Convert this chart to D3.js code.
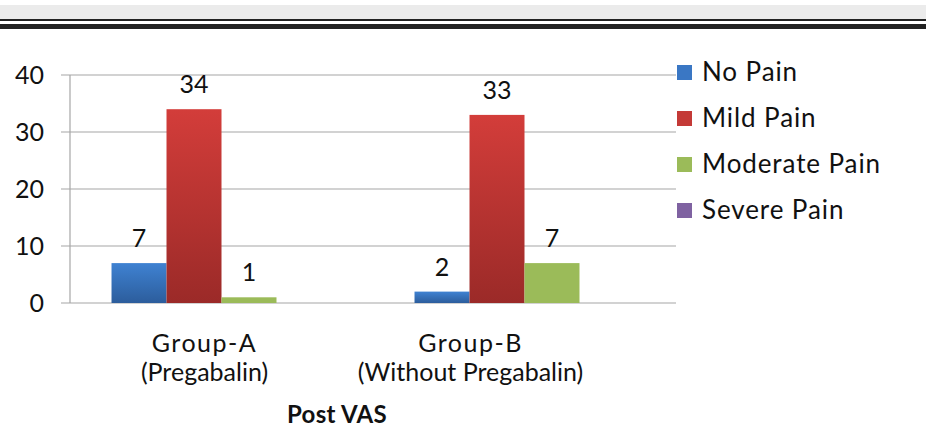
<!DOCTYPE html>
<html><head><meta charset="utf-8">
<script src="https://cdn.jsdelivr.net/npm/d3@7"></script>
<style>
html,body{margin:0;padding:0;background:#fff;}
svg{display:block;font-family:Lato,"Open Sans",sans-serif;}
</style></head>
<body>
<script>
const categories = ["Group-A|(Pregabalin)", "Group-B|(Without Pregabalin)"];
const seriesNames = ["No Pain", "Mild Pain", "Moderate Pain", "Severe Pain"];
const noPain = [7, 2];
const mildPain = [34, 33];
const moderatePain = [1, 7];
const severePain = [0, 0];
const yTicks = [0, 10, 20, 30, 40];
const axisTitle = "Post VAS";

(function(){
const W = 926, H = 437;
const seriesValues = [noPain, mildPain, moderatePain, severePain];
const colors = [
  ["#3f82d2", "#2c5d9c"],
  ["#d33d3a", "#9b2a28"],
  ["#9bbb59", "#9bbb59"],
  ["#7f62a1", "#6b4f8e"]
];
const legendColors = ["#3a77c4", "#c43a37", "#9bbb59", "#7f62a1"];

const svg = d3.select("body").append("svg").attr("width", W).attr("height", H);

// header bands
svg.append("rect").attr("x",0).attr("y",5).attr("width",W).attr("height",14).attr("fill","#ebebeb");
svg.append("rect").attr("x",0).attr("y",19).attr("width",W).attr("height",2).attr("fill","#222");
svg.append("rect").attr("x",0).attr("y",24).attr("width",W).attr("height",5).attr("fill","#222");

const defs = svg.append("defs");
colors.forEach((c,i)=>{
  const g = defs.append("linearGradient").attr("id","g"+i).attr("x1",0).attr("y1",0).attr("x2",0).attr("y2",1);
  g.append("stop").attr("offset","0%").attr("stop-color",c[0]);
  g.append("stop").attr("offset","100%").attr("stop-color",c[1]);
});

const mL = 70, mR = 676, mT = 75, mB = 303;
const y = d3.scaleLinear().domain([0,40]).range([mB, mT]);
const x0 = d3.scaleBand().domain(categories).range([mL, mR]).paddingInner(0).paddingOuter(0);
const x1 = d3.scaleBand().domain(seriesNames).range([0, x0.bandwidth()]).paddingInner(0).paddingOuter(0.755);

// gridlines
svg.append("g").selectAll("line").data(yTicks).join("line")
  .attr("x1", mL - 9).attr("x2", mR)
  .attr("y1", d=>y(d)).attr("y2", d=>y(d))
  .attr("stroke","#a6a6a6").attr("stroke-width",1.2);
// y axis line
svg.append("line").attr("x1",mL).attr("x2",mL).attr("y1",mT).attr("y2",mB)
  .attr("stroke","#a6a6a6").attr("stroke-width",1.2);
// y tick labels
svg.append("g").selectAll("text").data(yTicks).join("text")
  .attr("x", 44).attr("y", d=>y(d)+9).attr("text-anchor","end")
  .attr("font-size",25).attr("fill","#111").text(d=>d);

// bars
const groups = svg.append("g").selectAll("g").data(categories).join("g")
  .attr("transform", d=>`translate(${x0(d)},0)`);
groups.each(function(cat, ci){
  const g = d3.select(this);
  seriesNames.forEach((s, si)=>{
    const v = seriesValues[si][ci];
    if (v <= 0) return;
    g.append("rect")
      .attr("x", x1(s)).attr("width", x1.bandwidth())
      .attr("y", y(v)).attr("height", y(0)-y(v))
      .attr("fill", `url(#g${si})`);
    g.append("text")
      .attr("x", x1(s) + x1.bandwidth()/2).attr("y", y(v) - 16)
      .attr("text-anchor","middle").attr("font-size",25).attr("fill","#111")
      .text(v);
  });
});

// category labels
const labelShift = [-17, -54];
categories.forEach((c, i)=>{
  const parts = c.split("|");
  const cx = x0(c) + x0.bandwidth()/2 + labelShift[i];
  const t = svg.append("text").attr("text-anchor","middle").attr("font-size",25).attr("fill","#111");
  t.append("tspan").attr("x",cx).attr("y",352).attr("letter-spacing","1.5px").text(parts[0]);
  t.append("tspan").attr("x",cx).attr("y",381).text(parts[1]);
});

// axis title
svg.append("text").attr("x",337).attr("y",423).attr("text-anchor","middle")
  .attr("font-size",24).attr("font-weight","bold").attr("letter-spacing","0.3px")
  .attr("fill","#111").text(axisTitle);

// legend
const lg = svg.append("g").selectAll("g").data(seriesNames).join("g")
  .attr("transform",(d,i)=>`translate(677,${65 + i*46})`);
lg.append("rect").attr("width",15).attr("height",15).attr("fill",(d,i)=>legendColors[i]);
lg.append("text").attr("x",25).attr("y",16).attr("font-size",26)
  .attr("letter-spacing","0.9px").attr("fill","#111").text(d=>d);
})();
</script>
</body></html>
